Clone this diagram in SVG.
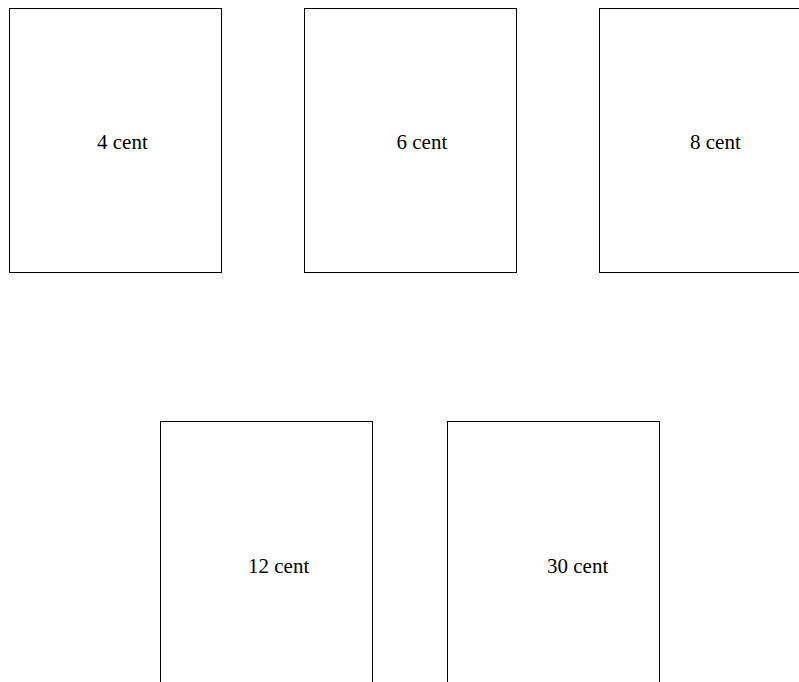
<svg xmlns="http://www.w3.org/2000/svg" width="799" height="682" viewBox="0 0 799 682">
<style>
.box{fill:#ffffff;stroke:#000000;stroke-width:1}
.lbl{font-family:"Liberation Serif","Times New Roman",serif;font-size:21px;fill:#000000}
</style>
<rect x="0" y="0" width="799" height="682" fill="#ffffff"/>
<g id="node-4cent"><rect class="box" x="9.5" y="8.5" width="212" height="264"/><text class="lbl" x="97" y="149">4 cent</text></g>
<g id="node-6cent"><rect class="box" x="304.5" y="8.5" width="212" height="264"/><text class="lbl" x="396.5" y="149">6 cent</text></g>
<g id="node-8cent"><rect class="box" x="599.5" y="8.5" width="212" height="264"/><text class="lbl" x="690" y="149">8 cent</text></g>
<g id="node-12cent"><rect class="box" x="160.5" y="421.5" width="212" height="264"/><text class="lbl" x="248" y="573">12 cent</text></g>
<g id="node-30cent"><rect class="box" x="447.5" y="421.5" width="212" height="264"/><text class="lbl" x="547" y="573">30 cent</text></g>
<g id="connectors"></g>
</svg>
